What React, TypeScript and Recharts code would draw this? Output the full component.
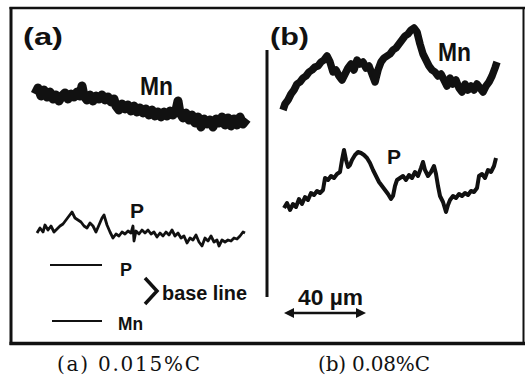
import React from "react";
import { LineChart, Line, XAxis, YAxis, ReferenceLine } from "recharts";

// Scan position (µm) and intensity above the base line (arbitrary units)
const MN_A: [number, number][] = [
  [0,227],[1.5,233],[3,225],[4.5,231],[6,224],[7.5,229],[9,222],[10.5,226],[12,220],[13.5,225],
  [15,228],[16.5,222],[18,227],[19.5,224],[21,229],[22.5,225],[23.5,235],[24.5,225],[26,221],[27.5,226],
  [29,220],[30.5,225],[32,222],[33.5,226],[35,221],[36.5,224],[38,219],[39.5,222],[40.5,215],[42,211],
  [43.5,217],[45,212],[46.5,216],[48,210],[49.5,215],[51,209],[52.5,213],[54,208],[55.5,212],[57,206],
  [58.5,211],[60,205],[61.5,209],[63,204],[64.5,209],[66,205],[67.5,210],[69,206],[70.5,211],[71.5,220],
  [72.5,208],[74,203],[75.5,208],[77,201],[78.5,206],[80,198],[81.5,204],[83,194],[84.5,202],[86,197],
  [87.5,201],[89,194],[90.5,202],[92,198],[93.5,204],[95,196],[96.5,203],[98,195],[99.5,202],[101,196],
  [102.5,204],[104,197],[106,202],
];

const P_A: [number, number][] = [
  [1,32],[2.5,37],[4,33],[5,40],[6.5,35],[8,39],[9.5,33],[11,36],[12.5,39],[14,41],
  [15.5,45],[17,49],[18.5,53],[20,47],[21.5,45],[23,43],[24.5,39],[26,37],[27.5,42],[29,39],
  [30.5,33],[32,40],[33.5,47],[34.5,50],[36,40],[37.5,33],[39,27],[40.5,31],[42,29],[43.5,33],
  [45,31],[46.5,34],[48,32],[49,39],[49.5,24],[50.5,34],[52,31],[53.5,35],[55,32],[56.5,35],
  [58,31],[59.5,33],[61,28],[62.5,32],[64,29],[65.5,33],[67,30],[68.5,35],[70,29],[71.5,32],
  [73,27],[74.5,29],[76,22],[77.5,27],[79,25],[80.5,30],[82,23],[83.5,19],[85,27],[86.5,24],
  [88,29],[89.5,23],[91,25],[92,19],[93.5,25],[95,23],[96.5,25],[98,24],[99.5,27],[101,26],
  [102.5,29],[104,33],[105,32],
];

const MN_B: [number, number][] = [
  [0,211],[1,217],[2.5,221],[4,227],[5.5,231],[7,237],[8.5,239],[10,243],[11.5,245],[13,249],
  [14.5,251],[16,254],[17.5,255],[19,259],[20.5,261],[22,265],[23.5,259],[25,249],[26.5,251],[28,245],
  [29.5,241],[31,247],[32.5,253],[34,257],[35.5,251],[37,261],[38.5,257],[40,259],[41.5,253],[43,255],
  [44.5,247],[46,239],[47.5,251],[49,259],[50.5,263],[52,265],[53.5,267],[55,271],[56.5,273],[58,277],
  [59.5,281],[61,285],[62.5,287],[64,291],[65.5,293],[67,289],[68.5,277],[70,267],[71.5,261],[73,255],
  [74.5,251],[76,249],[77.5,245],[79,247],[80.5,241],[82,235],[83.5,243],[85,237],[86.5,241],[88,233],
  [89.5,229],[91,237],[92.5,231],[94,235],[95.5,231],[97,237],[98.5,233],[100,229],[101.5,235],[103,239],
  [104.5,245],[106,253],[107,259],
];

const P_B: [number, number][] = [
  [0.5,57],[2,62],[3.5,55],[5,61],[6.5,58],[8,66],[9.5,61],[11,68],[12.5,65],[14,72],
  [15.5,70],[17,74],[18.5,72],[20,75],[21,87],[22.5,85],[24,89],[25.5,87],[27,91],[28.5,93],
  [29.5,105],[30.5,115],[31.5,105],[32.5,98],[33.5,100],[34.5,105],[36,110],[37.5,113],[39,112],[40.5,110],
  [42,107],[43.5,102],[45,95],[46.5,89],[48,83],[49.5,79],[51,75],[52.5,71],[54,66],[55,69],
  [56,79],[57,85],[58.5,87],[60,89],[61.5,85],[63,90],[64.5,87],[66,93],[67.5,89],[69,97],
  [70,103],[71,95],[72.5,89],[74,93],[75.5,99],[76.5,91],[77.5,79],[78.5,69],[80,63],[81.5,53],
  [82.5,60],[83.5,65],[85,69],[86.5,67],[88,71],[89.5,69],[91,72],[92.5,70],[94,74],[95.5,73],
  [97,77],[98,89],[99.5,91],[101,87],[102.5,95],[104,93],[105.5,99],[106.5,107],
];

// Base-line marker extents (µm on scan a axis)
const P_BASE: [number, number] = [7.5, 33.5];
const MN_BASE: [number, number] = [8.5, 33.5];

const PANEL_LABELS = ["(a)", "(b)"];
const CAPTIONS = ["(a) 0.015%C", "(b) 0.08%C"];
const SCALE_LABEL = "40 µm";

const toRows = (arr: [number, number][]) => arr.map(([x, v]) => ({ x, v }));

const W = 526;
const H = 381;
const INK = "#111";

const sans = "'Liberation Sans', Arial, sans-serif";
const serif = "'DejaVu Serif', 'Liberation Serif', serif";

export default function App() {
  return (
    <div style={{ position: "absolute", left: 0, top: 0, width: W, height: H, background: "#fff" }}>
      <div style={{ position: "absolute", left: 0, top: 0 }}>
        <LineChart width={W} height={H} margin={{ top: 0, right: 0, bottom: 0, left: 0 }}>
          <XAxis xAxisId="a" type="number" dataKey="x" domain={[-17.5, 245.5]} hide allowDataOverflow />
          <XAxis xAxisId="b" type="number" dataKey="x" domain={[-141.5, 121.5]} hide allowDataOverflow />
          <YAxis yAxisId="mn" type="number" domain={[-60, 321]} hide allowDataOverflow />
          <YAxis yAxisId="p" type="number" domain={[-116, 265]} hide allowDataOverflow />
          <Line data={toRows(MN_A)} xAxisId="a" yAxisId="mn" dataKey="v" type="linear" stroke={INK}
            strokeWidth={9} dot={false} isAnimationActive={false} strokeLinejoin="round" />
          <Line data={toRows(P_A)} xAxisId="a" yAxisId="p" dataKey="v" type="linear" stroke={INK}
            strokeWidth={2.8} dot={false} isAnimationActive={false} strokeLinejoin="round" />
          <Line data={toRows(MN_B)} xAxisId="b" yAxisId="mn" dataKey="v" type="linear" stroke={INK}
            strokeWidth={7.5} dot={false} isAnimationActive={false} strokeLinejoin="round" />
          <Line data={toRows(P_B)} xAxisId="b" yAxisId="p" dataKey="v" type="linear" stroke={INK}
            strokeWidth={4} dot={false} isAnimationActive={false} strokeLinejoin="round" />
          <ReferenceLine xAxisId="a" yAxisId="p" segment={[{ x: P_BASE[0], y: 0 }, { x: P_BASE[1], y: 0 }]}
            stroke={INK} strokeWidth={2} ifOverflow="visible" />
          <ReferenceLine xAxisId="a" yAxisId="mn" segment={[{ x: MN_BASE[0], y: 0 }, { x: MN_BASE[1], y: 0 }]}
            stroke={INK} strokeWidth={2.2} ifOverflow="visible" />
        </LineChart>
      </div>
      <svg width={W} height={H} style={{ position: "absolute", left: 0, top: 0, pointerEvents: "none" }}>
        {/* frame */}
        <line x1={9.5} y1={8} x2={525} y2={8} stroke={INK} strokeWidth={2.5} />
        <line x1={11} y1={7} x2={11} y2={345} stroke={INK} strokeWidth={3} />
        <line x1={523.5} y1={7} x2={523.5} y2={345} stroke={INK} strokeWidth={2} />
        <line x1={9.5} y1={343.5} x2={525} y2={343.5} stroke={INK} strokeWidth={3.5} />
        {/* divider */}
        <line x1={267} y1={50} x2={267} y2={297} stroke={INK} strokeWidth={3} />

        <g fill={INK} fontFamily={sans} fontWeight={700}>
          <text x={23} y={45} fontSize={24} textLength={40} lengthAdjust="spacingAndGlyphs">{PANEL_LABELS[0]}</text>
          <text x={270} y={45} fontSize={24} textLength={39} lengthAdjust="spacingAndGlyphs">{PANEL_LABELS[1]}</text>
          <text x={140} y={95} fontSize={25} textLength={33} lengthAdjust="spacingAndGlyphs">Mn</text>
          <text x={438} y={61} fontSize={25} textLength={33} lengthAdjust="spacingAndGlyphs">Mn</text>
          <text x={130} y={218} fontSize={21}>P</text>
          <text x={387} y={164} fontSize={21}>P</text>
          <text x={120} y={276} fontSize={18}>P</text>
          <text x={162} y={300} fontSize={20} textLength={85} lengthAdjust="spacingAndGlyphs">base line</text>
          <text x={118} y={330} fontSize={19} textLength={25} lengthAdjust="spacingAndGlyphs">Mn</text>
          <text x={298} y={305} fontSize={22} textLength={65} lengthAdjust="spacingAndGlyphs">{SCALE_LABEL}</text>
        </g>
        <polyline points="145,278 157,291 145,304" fill="none" stroke={INK} strokeWidth={3.5} />
        {/* scale arrow */}
        <line x1={289} y1={313} x2={361} y2={313} stroke={INK} strokeWidth={2.5} />
        <polygon points="284,313 294,308 294,318" fill={INK} />
        <polygon points="366,313 356,308 356,318" fill={INK} />

        <g fill={INK} fontFamily={serif}>
          <text x={57} y={371} fontSize={20} textLength={143} lengthAdjust="spacing">{CAPTIONS[0]}</text>
          <text x={318} y={371} fontSize={20} textLength={112} lengthAdjust="spacing">{CAPTIONS[1]}</text>
        </g>
      </svg>
    </div>
  );
}
